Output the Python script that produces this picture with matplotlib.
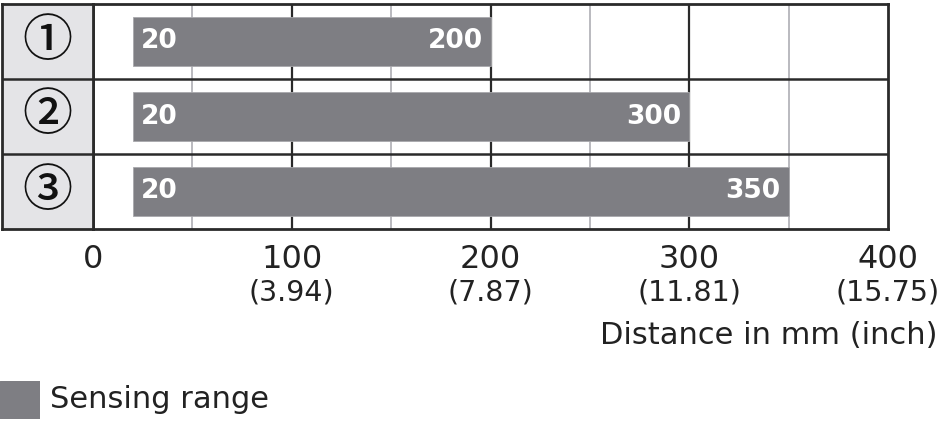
import matplotlib
matplotlib.use("Agg")
import matplotlib.pyplot as plt
from matplotlib.transforms import blended_transform_factory

# sensing ranges in mm
rows = ["\u2460", "\u2461", "\u2462"]
range_start = [20, 20, 20]
range_end = [200, 300, 350]

tick_mm = [0, 100, 200, 300, 400]
tick_inch = ["", "(3.94)", "(7.87)", "(11.81)", "(15.75)"]

bar_color = "#7e7e83"
line_dark = "#2a2a2a"
line_light = "#b4b4ba"

plt.rcParams["font.family"] = ["DejaVu Sans", "Noto Sans CJK JP"]

fig = plt.figure(figsize=(9.4, 4.26), dpi=100)
W, H = 940, 426

def px_axes(x0, y0, x1, y1):
    return fig.add_axes([x0 / W, 1 - y1 / H, (x1 - x0) / W, (y1 - y0) / H])

ax = px_axes(93, 4, 888, 229)
lab = px_axes(2, 4, 93, 229)

n = len(rows)
ax.set_xlim(0, 400)
ax.set_ylim(n - 0.5, -0.5)

for x in [50, 150, 250, 350]:
    ax.axvline(x, color=line_light, lw=1.3, zorder=0)
for x in [100, 200, 300]:
    ax.axvline(x, color=line_dark, lw=1.6, zorder=0)
for y in range(n - 1):
    ax.axhline(y + 0.5, color=line_dark, lw=1.8, zorder=3)

ys = list(range(n))
widths = [e - s for s, e in zip(range_start, range_end)]
ax.barh(ys, widths, left=range_start, height=0.66, color=bar_color,
        edgecolor="#a8a8ac", lw=0.6, zorder=2)

for y, s, e in zip(ys, range_start, range_end):
    ax.text(s + 4, y, str(s), color="white", fontsize=19, fontweight="bold",
            ha="left", va="center", zorder=4)
    ax.text(e - 4, y, str(e), color="white", fontsize=19, fontweight="bold",
            ha="right", va="center", zorder=4)

ax.set_yticks([])
ax.set_xticks(tick_mm)
ax.set_xticklabels([str(m) for m in tick_mm], fontsize=23, color="#222222")
ax.tick_params(axis="x", length=0, pad=11)
trans = blended_transform_factory(ax.transData, fig.transFigure)
for m, i in zip(tick_mm, tick_inch):
    if i:
        ax.text(m, 1 - 292 / H, i, transform=trans, fontsize=20.5,
                ha="center", va="center", color="#222222", clip_on=False)
for sp in ax.spines.values():
    sp.set_color(line_dark)
    sp.set_linewidth(2)

# row labels column
lab.set_facecolor("#e4e4e7")
lab.set_xlim(0, 1)
lab.set_ylim(n - 0.5, -0.5)
lab.set_xticks([])
lab.set_yticks([])
for y in range(n - 1):
    lab.axhline(y + 0.5, color=line_dark, lw=1.8)
for sp in lab.spines.values():
    sp.set_color(line_dark)
    sp.set_linewidth(2)
for y, r in zip(ys, rows):
    lab.text(0.5, y, r, fontsize=36, ha="center", va="center", color="#111111",
             family=["Noto Sans CJK JP", "DejaVu Sans"], fontweight="medium")

fig.text(938 / W, 1 - 336 / H, "Distance in mm (inch)", fontsize=22,
         ha="right", va="center", color="#222222")

leg = px_axes(0, 381, 40, 419)
leg.set_axis_off()
leg.add_patch(plt.Rectangle((0, 0), 1, 1, color=bar_color, transform=leg.transAxes))
fig.text(50 / W, 1 - 400 / H, "Sensing range", fontsize=22, ha="left",
         va="center", color="#222222")

fig.savefig("out.png", dpi=100)
